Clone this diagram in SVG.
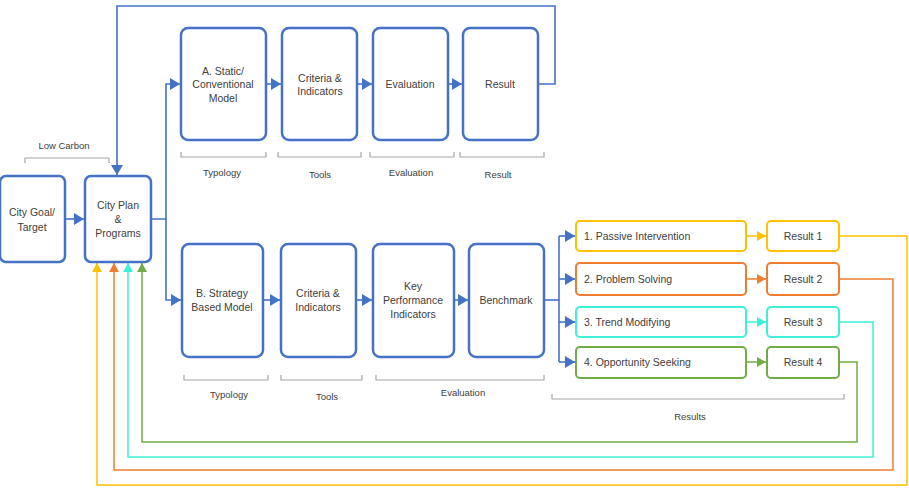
<svg xmlns="http://www.w3.org/2000/svg" width="909" height="488" viewBox="0 0 909 488">
<style>
.box{fill:#fff;stroke:#4472C4;stroke-width:2.5}
.t{font-family:"Liberation Sans",Arial,sans-serif;font-size:10.5px;fill:#404040;text-anchor:middle}
.tl{font-family:"Liberation Sans",Arial,sans-serif;font-size:10.5px;fill:#404040}
.s{font-family:"Liberation Sans",Arial,sans-serif;font-size:9.5px;fill:#404040;text-anchor:middle}
.br{fill:none;stroke:#A6A6A6;stroke-width:1.2}
.bl{fill:none;stroke:#4472C4;stroke-width:1.6}
</style>
<defs>
<marker id="ab" markerUnits="userSpaceOnUse" markerWidth="10" markerHeight="12" refX="10" refY="6" orient="auto"><path d="M0,0 L10,6 L0,12 z" fill="#4472C4"/></marker>
<marker id="ay" markerUnits="userSpaceOnUse" markerWidth="9" markerHeight="10" refX="9" refY="5" orient="auto"><path d="M0,0 L9,5 L0,10 z" fill="#FFC000"/></marker>
<marker id="ao" markerUnits="userSpaceOnUse" markerWidth="9" markerHeight="10" refX="9" refY="5" orient="auto"><path d="M0,0 L9,5 L0,10 z" fill="#ED7D31"/></marker>
<marker id="ac" markerUnits="userSpaceOnUse" markerWidth="9" markerHeight="10" refX="9" refY="5" orient="auto"><path d="M0,0 L9,5 L0,10 z" fill="#3FF0D8"/></marker>
<marker id="ag" markerUnits="userSpaceOnUse" markerWidth="9" markerHeight="10" refX="9" refY="5" orient="auto"><path d="M0,0 L9,5 L0,10 z" fill="#70AD47"/></marker>
</defs>

<g id="connectors">
<path class="bl" d="M65,219 H84" marker-end="url(#ab)"/>
<path class="bl" d="M538,84 H555 V6 H117 V175" marker-end="url(#ab)"/>
<path class="bl" d="M151,219 H166 V84 H180" marker-end="url(#ab)"/>
<path class="bl" d="M166,219 V300 H181" marker-end="url(#ab)"/>
<path class="bl" d="M266,84 H281" marker-end="url(#ab)"/>
<path class="bl" d="M357,84 H372" marker-end="url(#ab)"/>
<path class="bl" d="M448,84 H462" marker-end="url(#ab)"/>
<path class="bl" d="M263,300 H280" marker-end="url(#ab)"/>
<path class="bl" d="M356,300 H372" marker-end="url(#ab)"/>
<path class="bl" d="M454,300 H468" marker-end="url(#ab)"/>
<path class="bl" d="M544,300 H559"/>
<path class="bl" d="M559,236 V362"/>
<path class="bl" d="M559,236 H575" marker-end="url(#ab)"/>
<path class="bl" d="M559,279 H575" marker-end="url(#ab)"/>
<path class="bl" d="M559,322 H575" marker-end="url(#ab)"/>
<path class="bl" d="M559,362 H575" marker-end="url(#ab)"/>
<path d="M746,236 H766" fill="none" stroke="#FFC000" stroke-width="1.5" marker-end="url(#ay)"/>
<path d="M746,279 H766" fill="none" stroke="#ED7D31" stroke-width="1.5" marker-end="url(#ao)"/>
<path d="M746,322 H766" fill="none" stroke="#3FF0D8" stroke-width="1.5" marker-end="url(#ac)"/>
<path d="M746,362 H766" fill="none" stroke="#70AD47" stroke-width="1.5" marker-end="url(#ag)"/>
<path d="M839,236 H907 V485 H97 V263" fill="none" stroke="#FFC000" stroke-width="1.5" marker-end="url(#ay)"/>
<path d="M839,279 H893 V470 H114 V263" fill="none" stroke="#ED7D31" stroke-width="1.5" marker-end="url(#ao)"/>
<path d="M839,322 H873 V457 H128 V263" fill="none" stroke="#3FF0D8" stroke-width="1.5" marker-end="url(#ac)"/>
<path d="M839,362 H857 V442 H142 V263" fill="none" stroke="#70AD47" stroke-width="1.5" marker-end="url(#ag)"/>
</g>

<g id="brackets">
<path class="br" d="M25,163 V158 H109 V163" transform="translate(0,0)"/>
<text class="s" x="64" y="149">Low Carbon</text>
<path class="br" d="M181,152 V157 H266 V152"/>
<text class="s" x="222" y="176">Typology</text>
<path class="br" d="M278,152 V157 H361 V152"/>
<text class="s" x="320" y="178">Tools</text>
<path class="br" d="M370,152 V157 H454 V152"/>
<text class="s" x="411" y="176">Evaluation</text>
<path class="br" d="M460,152 V157 H544 V152"/>
<text class="s" x="498" y="178">Result</text>
<path class="br" d="M184,375 V380 H268 V375"/>
<text class="s" x="229" y="398">Typology</text>
<path class="br" d="M281,375 V380 H362 V375"/>
<text class="s" x="327" y="400">Tools</text>
<path class="br" d="M376,375 V380 H544 V375"/>
<text class="s" x="463" y="396">Evaluation</text>
<path class="br" d="M552,394 V399 H844 V394"/>
<text class="s" x="690" y="420">Results</text>
</g>

<g id="city-goal"><rect class="box" x="0" y="176" width="65" height="86" rx="6"/>
<text class="t" x="32" y="216">City Goal/</text><text class="t" x="32" y="231">Target</text></g>
<g id="city-plan"><rect class="box" x="85" y="176" width="66" height="86" rx="6"/>
<text class="t" x="118" y="209">City Plan</text><text class="t" x="118" y="223">&amp;</text><text class="t" x="118" y="237">Programs</text></g>

<g id="a-model"><rect class="box" x="181" y="28" width="85" height="112" rx="7"/>
<text class="t" x="223" y="75">A. Static/</text><text class="t" x="223" y="88">Conventional</text><text class="t" x="223" y="102">Model</text></g>
<g id="a-criteria"><rect class="box" x="282" y="28" width="75" height="112" rx="7"/>
<text class="t" x="320" y="82">Criteria &amp;</text><text class="t" x="320" y="95">Indicators</text></g>
<g id="a-evaluation"><rect class="box" x="373" y="28" width="75" height="112" rx="7"/>
<text class="t" x="410" y="88">Evaluation</text></g>
<g id="a-result"><rect class="box" x="463" y="28" width="75" height="112" rx="7"/>
<text class="t" x="500" y="88">Result</text></g>

<g id="b-model"><rect class="box" x="182" y="244" width="81" height="113" rx="7"/>
<text class="t" x="222" y="297">B. Strategy</text><text class="t" x="222" y="311">Based Model</text></g>
<g id="b-criteria"><rect class="box" x="281" y="244" width="75" height="113" rx="7"/>
<text class="t" x="318" y="297">Criteria &amp;</text><text class="t" x="318" y="311">Indicators</text></g>
<g id="b-kpi"><rect class="box" x="373" y="244" width="81" height="113" rx="7"/>
<text class="t" x="413" y="290">Key</text><text class="t" x="413" y="304">Performance</text><text class="t" x="413" y="318">Indicators</text></g>
<g id="b-benchmark"><rect class="box" x="469" y="244" width="75" height="113" rx="7"/>
<text class="t" x="506" y="304">Benchmark</text></g>

<g id="s1"><rect x="576" y="221" width="170" height="30" rx="4" fill="#fff" stroke="#FFC000" stroke-width="2"/>
<text class="tl" x="584" y="240">1. Passive Intervention</text></g>
<g id="s2"><rect x="576" y="263" width="170" height="32" rx="4" fill="#fff" stroke="#ED7D31" stroke-width="2"/>
<text class="tl" x="584" y="283">2. Problem Solving</text></g>
<g id="s3"><rect x="576" y="307" width="170" height="30" rx="4" fill="#fff" stroke="#3FF0D8" stroke-width="2"/>
<text class="tl" x="584" y="326">3. Trend Modifying</text></g>
<g id="s4"><rect x="576" y="347" width="170" height="31" rx="4" fill="#fff" stroke="#70AD47" stroke-width="2"/>
<text class="tl" x="584" y="366">4. Opportunity Seeking</text></g>

<g id="r1"><rect x="767" y="221" width="72" height="30" rx="4" fill="#fff" stroke="#FFC000" stroke-width="2"/>
<text class="t" x="803" y="240">Result 1</text></g>
<g id="r2"><rect x="767" y="263" width="72" height="32" rx="4" fill="#fff" stroke="#ED7D31" stroke-width="2"/>
<text class="t" x="803" y="283">Result 2</text></g>
<g id="r3"><rect x="767" y="307" width="72" height="30" rx="4" fill="#fff" stroke="#3FF0D8" stroke-width="2"/>
<text class="t" x="803" y="326">Result 3</text></g>
<g id="r4"><rect x="767" y="347" width="72" height="31" rx="4" fill="#fff" stroke="#70AD47" stroke-width="2"/>
<text class="t" x="803" y="366">Result 4</text></g>
</svg>
